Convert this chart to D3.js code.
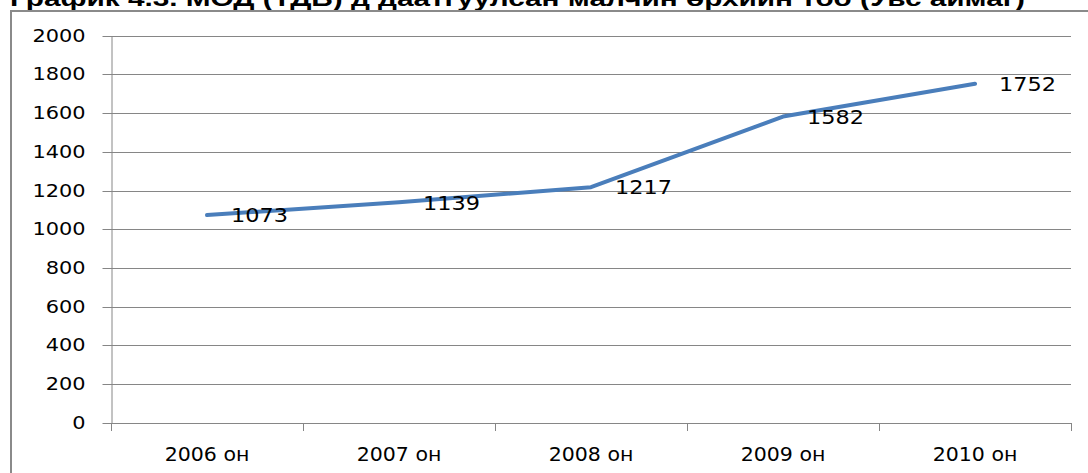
<!DOCTYPE html>
<html>
<head>
<meta charset="utf-8">
<script src="https://cdn.jsdelivr.net/npm/d3@7/dist/d3.min.js"></script>
<style>
  html, body { margin: 0; padding: 0; background: #fff; }
  svg { display: block; }
</style>
</head>
<body>
<svg id="chart" width="1088" height="473"></svg>
<script>
const titleText = "График 4.3. МОД (ТДБ) д даатгуулсан малчин өрхийн тоо (Увс аймаг)";
const categories = ["2006 он", "2007 он", "2008 он", "2009 он", "2010 он"];
const values = [1073, 1139, 1217, 1582, 1752];
const yTicks = [0, 200, 400, 600, 800, 1000, 1200, 1400, 1600, 1800, 2000];

const svg = d3.select("#chart");
const W = 1088, H = 473;
const plot = { left: 111, right: 1071, top: 35.7, bottom: 422.7 };
const gridColor = "#868686";
const fontFam = "'DejaVu Sans', sans-serif";

// Title (cut off at top, as in the reference)
svg.append("text")
  .attr("x", 10).attr("y", 6)
  .attr("textLength", 1015).attr("lengthAdjust", "spacingAndGlyphs")
  .style("font-family", "'Liberation Sans', Arial, sans-serif")
  .style("font-weight", "bold").style("font-size", "22px")
  .attr("fill", "#000")
  .text(titleText);

// Chart frame
svg.append("rect")
  .attr("x", 11).attr("y", 11).attr("width", W + 20).attr("height", H + 20)
  .attr("fill", "#fff").attr("stroke", "#8a8a8a").attr("stroke-width", 2);

const x = d3.scaleBand().domain(categories).range([plot.left, plot.right]).padding(0);
const y = d3.scaleLinear().domain([0, 2000]).range([plot.bottom, plot.top]);

// Gridlines
svg.append("g").selectAll("line").data(yTicks.filter(d => d > 0)).join("line")
  .attr("x1", plot.left).attr("x2", plot.right)
  .attr("y1", d => Math.round(y(d)) + 0.5).attr("y2", d => Math.round(y(d)) + 0.5)
  .attr("stroke", gridColor).attr("stroke-width", 1);

// Y axis
const yScaleX = 1.16;
const yAxis = svg.append("g")
  .attr("transform", `translate(${plot.left + 0.5},0)`)
  .call(d3.axisLeft(y).tickValues(yTicks).tickFormat(d3.format("d"))
    .tickSize(9).tickPadding(26 / yScaleX - 9).tickSizeOuter(0));
yAxis.select(".domain").attr("stroke", gridColor);
yAxis.selectAll(".tick line").attr("stroke", gridColor);
yAxis.selectAll(".tick").attr("transform", d => `translate(0,${Math.round(y(d)) + 0.5})`);
yAxis.selectAll(".tick text")
  .attr("transform", `scale(${yScaleX},1)`)
  .style("font-family", fontFam).style("font-size", "18px").attr("fill", "#000");

// X axis line
svg.append("line")
  .attr("x1", plot.left).attr("x2", plot.right)
  .attr("y1", Math.round(plot.bottom) + 0.5).attr("y2", Math.round(plot.bottom) + 0.5)
  .attr("stroke", gridColor);

// X boundary ticks
const bounds = categories.map(c => x(c)).concat([x(categories[categories.length - 1]) + x.bandwidth()]);
svg.append("g").selectAll("line").data(bounds).join("line")
  .attr("x1", d => Math.round(d) + 0.5).attr("x2", d => Math.round(d) + 0.5)
  .attr("y1", Math.round(plot.bottom)).attr("y2", Math.round(plot.bottom) + 8)
  .attr("stroke", gridColor);

// X labels
const xAxis = svg.append("g")
  .attr("transform", `translate(0,${plot.bottom})`)
  .call(d3.axisBottom(x).tickSize(0).tickPadding(0));
xAxis.select(".domain").remove();
xAxis.selectAll(".tick text")
  .attr("y", 38).attr("dy", 0)
  .attr("transform", "scale(1.08,1)")
  .style("font-family", fontFam).style("font-size", "19px").attr("fill", "#000");

// Line
const cx = d => x(d.c) + x.bandwidth() / 2;
const data = categories.map((c, i) => ({ c, v: values[i] }));
svg.append("path")
  .datum(data)
  .attr("d", d3.line().x(cx).y(d => y(d.v)))
  .attr("fill", "none").attr("stroke", "#4a7ebb").attr("stroke-width", 4)
  .attr("stroke-linecap", "round").attr("stroke-linejoin", "round");

// Data labels
svg.append("g").selectAll("text").data(data).join("text")
  .attr("transform", d => `translate(${cx(d) + 24},${y(d.v)}) scale(1.12,1)`)
  .attr("dy", "0.36em")
  .style("font-family", fontFam).style("font-size", "20px").attr("fill", "#000")
  .text(d => d.v);
</script>
</body>
</html>
